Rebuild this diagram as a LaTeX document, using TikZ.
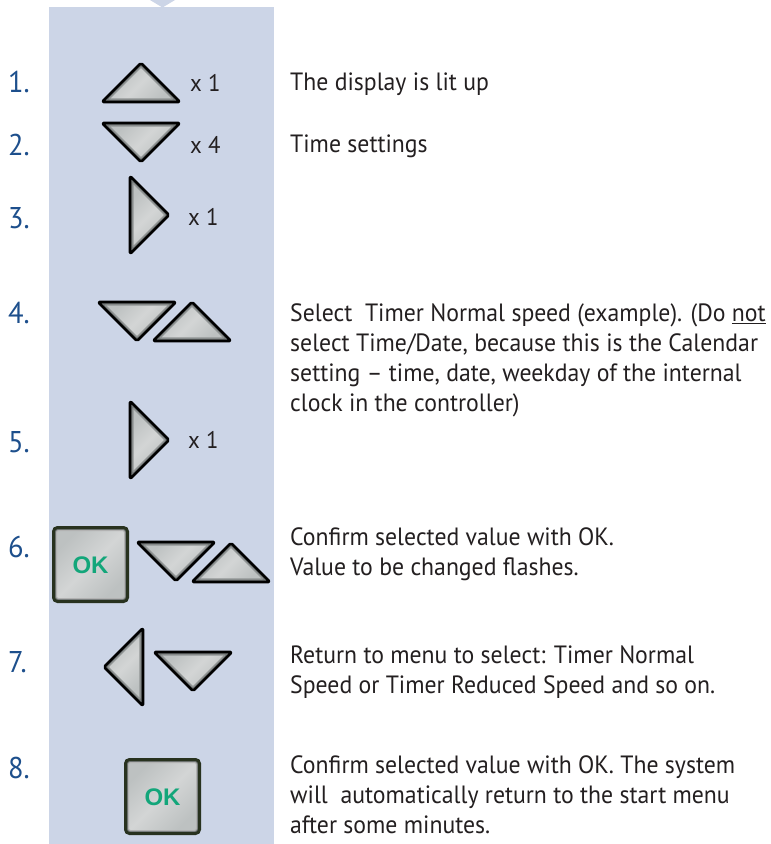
\documentclass[tikz,border=0pt]{standalone}
\usepackage{fontspec}
\setmainfont[FakeStretch=0.95]{PT Sans}
\newfontfamily\okfont{Liberation Sans}
\definecolor{painel}{HTML}{CCD5E7}
\definecolor{numazul}{HTML}{1D4F8C}
\definecolor{texto}{HTML}{231F20}
\definecolor{okverde}{HTML}{13A67A}
\definecolor{teclaclara}{HTML}{D3D5D5}
\definecolor{teclaescura}{HTML}{BDC1C1}
\definecolor{teclaborda}{HTML}{747979}
\definecolor{botaoborda}{HTML}{28321F}
\tikzset{
  numero/.style={anchor=base west, inner sep=0pt, text=numazul, font=\fontsize{30}{34}\selectfont},
  passo/.style={anchor=base west, inner sep=0pt, align=left, text=texto, font=\fontsize{25}{30}\selectfont},
  vezes/.style={anchor=base west, inner sep=0pt, text=texto, font=\fontsize{24}{30}\selectfont},
  oktexto/.style={inner sep=0pt, text=okverde, font=\okfont\bfseries\fontsize{24}{28}\selectfont},
  miolo/.style={shading=axis, top color=teclaescura, bottom color=teclaescura, middle color=teclaclara, shading angle=45},
  seta/.pic={
    \path[draw=black, fill=teclaborda, line width=2.6pt, line join=round, rounded corners=1.5pt] (-39,0) -- (0,-39) -- (39,0) -- cycle;
    \path[miolo, draw=teclaborda!80, line width=1.2pt, rounded corners=1pt] (-32,-3) -- (0,-35) -- (32,-3) -- cycle;
  },
  botao/.pic={
    \path[draw=botaoborda, fill=teclaborda, line width=3pt, rounded corners=4pt] (-37,-37) rectangle (37,37);
    \path[miolo, draw=gray!60, line width=1pt, rounded corners=2pt] (-34,-34) rectangle (34,34);
  },
}
\begin{document}
\begin{tikzpicture}[x=1pt, y=-1pt]
  \useasboundingbox (0,0) rectangle (771,844);
  % painel azul
  \fill[painel] (49,7) rectangle (274,844);
  \fill[painel] (150,0) -- (175,0) -- (162.5,7.5) -- cycle;

  \foreach \n/\y in {1/92, 2/155, 3/228, 4/323, 5/452, 6/557, 7/672, 8/778}
    \node[numero] (n\n) at (8,\y) {\n.};

  % teclas
  \pic at (141,102) {seta};
  \pic[rotate=180] at (141,123) {seta};
  \pic[rotate=-90] at (130,215) {seta};
  \pic[rotate=180] at (137,302) {seta};
  \pic at (192,341) {seta};
  \pic[rotate=-90] at (130,440) {seta};
  \pic at (90.5,564.5) {botao};
  \pic[rotate=180] at (176,542) {seta};
  \pic at (231,582) {seta};
  \pic[rotate=90] at (143,667) {seta};
  \pic[rotate=180] at (193,652) {seta};
  \pic at (162.5,796.5) {botao};
  \node[oktexto] (ok6) at (90.5,565) {OK};
  \node[oktexto] (ok8) at (162.5,797) {OK};

  \node[vezes] (v1) at (190,91) {x 1};
  \node[vezes] (v2) at (190,153) {x 4};
  \node[vezes] (v3) at (188,225) {x 1};
  \node[vezes] (v5) at (188,448) {x 1};

  % textos (base = ultima linha)
  \node[passo] (t1) at (290,90) {The display is lit up};
  \node[passo] (t2) at (290,152) {Time settings};
  \node[passo] (t4) at (290,411) {Select\ \ Timer Normal speed (example). (Do \underline{not}\\
    select Time/Date, because this is the Calendar\\
    setting -- time, date, weekday of the internal\\
    clock in the controller)};
  \node[passo] (t6) at (290,575) {Confirm selected value with OK.\\
    Value to be changed flashes.};
  \node[passo] (t7) at (290,693) {Return to menu to select: Timer Normal\\
    Speed or Timer Reduced Speed and so on.};
  \node[passo] (t8) at (290,833) {Confirm selected value with OK. The system\\
    will\ \ automatically return to the start menu\\
    after some minutes.};
\end{tikzpicture}
\end{document}
